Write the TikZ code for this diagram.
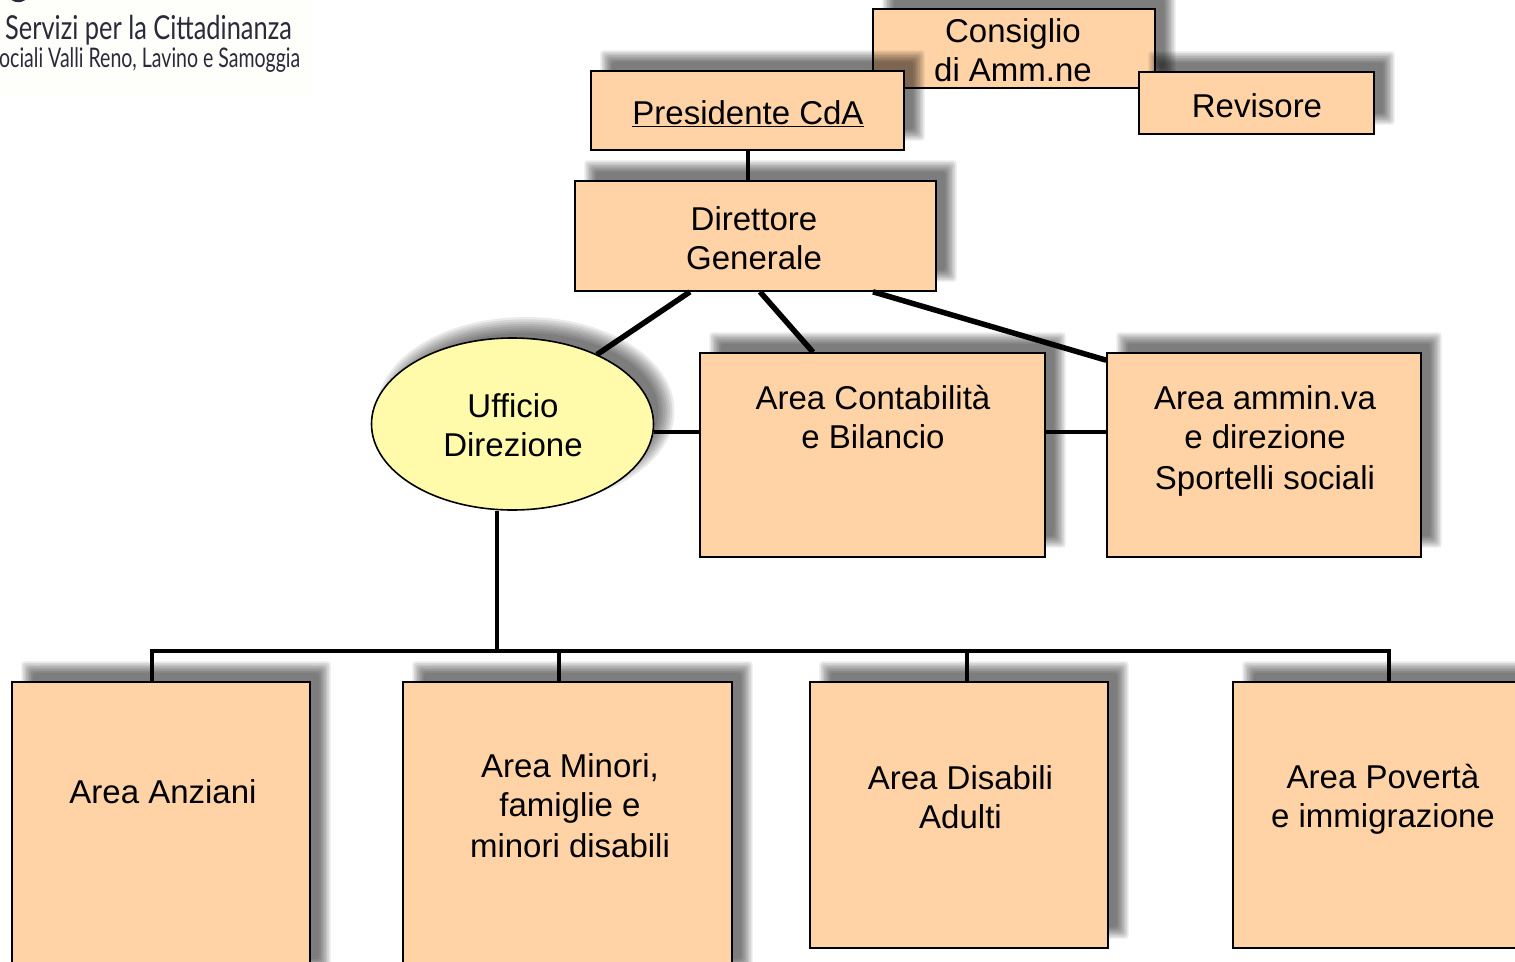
\documentclass[tikz,border=0pt]{standalone}
\usepackage{fontspec}
\setmainfont{Liberation Sans}
\newfontfamily\logofont{Lato}
\definecolor{boxfill}{HTML}{FFD3A6}
\definecolor{ellfill}{HTML}{FFFBAA}
\definecolor{logoink}{HTML}{2A2A3A}
\definecolor{logobg}{HTML}{FEFEFA}
\tikzset{
  boxnode/.style={draw=black,line width=1.6pt,fill=boxfill,inner sep=0pt,rectangle},
  ellnode/.style={draw=black,line width=1.6pt,fill=ellfill,inner sep=0pt,ellipse},
  label text/.style={font=\fontsize{33}{39}\selectfont,align=center,inner sep=0pt,text=black},
  thick link/.style={line width=5.5pt,black},
  main link/.style={line width=4pt,black},
  logo big/.style={font=\logofont\fontsize{33}{39}\selectfont,text=logoink,inner sep=0pt,anchor=west,xscale=.77},
  logo small/.style={font=\logofont\fontsize{27}{32}\selectfont,text=logoink,inner sep=0pt,anchor=west,xscale=.723},
}
\usetikzlibrary{shapes.geometric,calc}
% soft shadow: nested translucent shapes, offset +15,-15
\newcommand{\softrect}[4]{%
  \foreach \ins in {-5.6,-4,-2.4,-.8,.8,2.4,4,5.6}{%
    \fill[black,opacity=.083,rounded corners=3pt]
      ({#1+15+\ins},{#2-15+\ins}) rectangle ({#3+15-\ins},{#4-15-\ins});
  }}
\newcommand{\softell}[4]{%
  \foreach \ins in {-8,-5.7,-3.4,-1.1,1.1,3.4,5.7,8}{%
    \fill[black,opacity=.083] ({#1+13},{#2-13}) ellipse [x radius={#3-\ins},y radius={#4-\ins}];
  }}
\newcommand{\boxat}[5]{%
  \softrect{#2}{#3}{#4}{#5}%
  \pgfmathsetmacro{\bcx}{(#2+#4)/2}\pgfmathsetmacro{\bcy}{(#3+#5)/2}%
  \pgfmathsetmacro{\bw}{#4-#2}\pgfmathsetmacro{\bh}{#5-#3}%
  \node[boxnode,minimum width=\bw pt,minimum height=\bh pt] (#1) at (\bcx,\bcy) {};}
\begin{document}
\begin{tikzpicture}[x=1pt,y=-1pt]
\clip (0,0) rectangle (1515,961);
\fill[white] (0,0) rectangle (1515,961);
% logo
\fill[logobg] (0,0) rectangle (312,96);
\fill[logoink] (7,-6) .. controls (12,5) and (24,5) .. (31,-6) -- cycle;
\node[logo big] (logoA) at (5,30) {Servizi per la Cittadinanza};
\node[logo small] (logoB) at (-1,60) {ociali Valli Reno, Lavino e Samoggia};
% upper boxes
\boxat{cons}{873}{9}{1155}{88}
\boxat{rev}{1139}{72}{1374}{134}
\boxat{pres}{591}{71}{904}{150}
\boxat{dir}{575}{181}{936}{291}
% area boxes and ellipse
\softell{512.5}{424}{141}{86}
\boxat{cont}{700}{353}{1045}{557}
\boxat{amm}{1107}{353}{1421}{557}
\boxat{anz}{12}{682}{310}{980}
\boxat{min}{403}{682}{732}{980}
\boxat{dis}{810}{682}{1108}{948}
\boxat{pov}{1233}{682}{1540}{948}
\node[ellnode,minimum width=282pt,minimum height=172pt] (uff) at (512.5,424) {};
% connectors
\coordinate (busL) at (152,651);
\coordinate (busR) at (1389,651);
\coordinate (busU) at (497,651);
\coordinate (uffTop) at (597,354.5);
\draw[main link] (pres.south) -- (pres.south |- dir.north);
\draw[thick link] (dir.south -| 690,0) -- (uffTop);
\draw[thick link] (dir.south -| 760,0) -- (cont.north -| 813,0);
\draw[thick link] (dir.south -| 873,0) -- ($(amm.north west)+(0,8)$);
\draw[main link] (uff.east |- 0,432) -- (cont.west |- 0,432);
\draw[main link] (cont.east |- 0,432) -- (amm.west |- 0,432);
\draw[main link] (busU |- uff.south) -- (busU);
\draw[main link,line cap=rect] (busL |- anz.north) -- (busL) -- (busR) -- (busR |- pov.north);
\draw[main link] (min.north -| 559,0) -- (559,651);
\draw[main link] (dis.north -| 967,0) -- (967,651);
% labels
\node[label text] (tCons) at (1013,50) {Consiglio\\di Amm.ne};
\node[label text] (tPres) at (748,114) {\underline{Presidente CdA}};
\node[label text] (tRev) at (1257,106) {Revisore};
\node[label text] (tDir) at (754,238) {Direttore\\Generale};
\node[label text] (tUff) at (513,425) {Ufficio\\Direzione};
\node[label text] (tCont) at (873,417) {Area Contabilità\\e Bilancio};
\node[label text] (tAmm) at (1265,441) {Area ammin.va\\e direzione\\[2pt]Sportelli sociali};
\node[label text] (tAnz) at (163,792) {Area Anziani};
\node[label text] (tMin) at (570,805.5) {Area Minori,\\famiglie e\\[2pt]minori disabili};
\node[label text] (tDis) at (960.5,797) {Area Disabili\\Adulti};
\node[label text] (tPov) at (1383,799) {Area Povertà\\e immigrazione};
\end{tikzpicture}
\end{document}
